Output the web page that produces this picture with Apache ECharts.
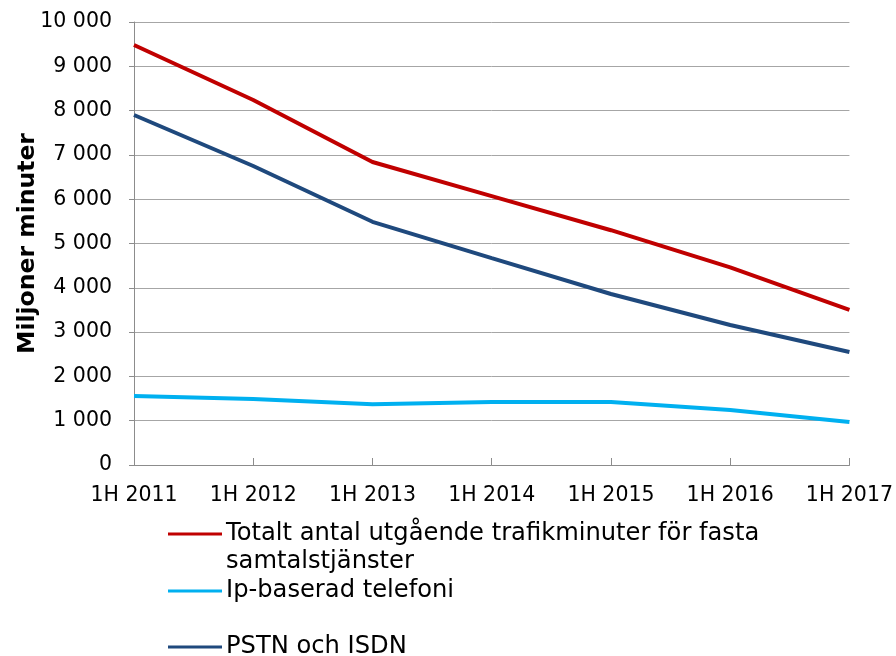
<!DOCTYPE html>
<html><head><meta charset="utf-8">
<script src="https://cdn.jsdelivr.net/npm/echarts@6/dist/echarts.min.js"></script>
<style>html,body{margin:0;padding:0;background:#fff}#c{width:896px;height:656px}</style>
</head><body><div id="c"></div>
<script>
const categories = ['1H 2011','1H 2012','1H 2013','1H 2014','1H 2015','1H 2016','1H 2017'];
const totalt = [9480, 8240, 6840, 6070, 5300, 4460, 3500];
const ipBaserad = [1560, 1490, 1370, 1420, 1420, 1240, 970];
const pstn = [7900, 6750, 5490, 4670, 3860, 3160, 2550];
const seriesNames = ['Totalt antal utgående trafikminuter för fasta samtalstjänster', 'Ip-baserad telefoni', 'PSTN och ISDN'];
const legendFirstLine = 'Totalt antal utgående trafikminuter för fasta';
const legendSecondLine = 'samtalstjänster';
const yTicks = {min: 0, max: 10000, interval: 1000};

const font = 'DejaVu Sans, Verdana, sans-serif';
const fmt = v => { const s = String(v); return s.length > 3 ? s.slice(0, -3) + ' ' + s.slice(-3) : s; };
const colors = ['#C00000', '#00B0F0', '#1F497D'];
const legendFont = 24.2;

const chart = echarts.init(document.getElementById('c'), null, {renderer: 'canvas'});
const mkLegend = (i, top, extra) => Object.assign({
  data: [seriesNames[i]], left: 168, top: top, orient: 'vertical',
  icon: 'rect', itemWidth: 54, itemHeight: 3, itemGap: 0, padding: 0,
  selectedMode: false,
  textStyle: {fontFamily: font, fontSize: legendFont, lineHeight: 28, color: '#000', padding: [0,0,0,-1]}
}, extra || {});
chart.setOption({
  animation: false,
  color: colors,
  grid: {left: 134, right: 46, top: 22, bottom: 191},
  xAxis: {
    type: 'category', data: categories, boundaryGap: false,
    axisLine: {lineStyle: {color: '#8c8c8c', width: 1}},
    axisTick: {inside: true, length: 7, lineStyle: {color: '#8c8c8c'}},
    axisLabel: {fontFamily: font, fontSize: 20.5, color: '#000', margin: 20, interval: 0}
  },
  yAxis: {
    type: 'value', min: yTicks.min, max: yTicks.max, interval: yTicks.interval,
    name: 'Miljoner minuter', nameLocation: 'middle', nameGap: 94, nameMoveOverlap: false,
    nameTextStyle: {fontFamily: font, fontSize: 23.5, fontWeight: 'bold', color: '#000'},
    axisLine: {show: true, lineStyle: {color: '#8c8c8c', width: 1}},
    axisTick: {show: true, length: 5, lineStyle: {color: '#8c8c8c'}},
    axisLabel: {fontFamily: font, fontSize: 20.5, color: '#000', margin: 22, formatter: fmt},
    splitLine: {lineStyle: {color: '#a6a6a6', width: 1}}
  },
  legend: [
    mkLegend(0, 520, {formatter: () => legendFirstLine}),
    mkLegend(1, 577),
    mkLegend(2, 633)
  ],
  graphic: [{
    type: 'text', left: 226, top: 548,
    style: {text: legendSecondLine, font: legendFont + 'px ' + font, fill: '#000', lineHeight: 28}
  }],
  series: [
    {name: seriesNames[0], type: 'line', data: totalt, symbol: 'none', lineStyle: {width: 4, color: colors[0]}},
    {name: seriesNames[1], type: 'line', data: ipBaserad, symbol: 'none', lineStyle: {width: 4, color: colors[1]}},
    {name: seriesNames[2], type: 'line', data: pstn, symbol: 'none', lineStyle: {width: 4, color: colors[2]}}
  ]
});
</script></body></html>
